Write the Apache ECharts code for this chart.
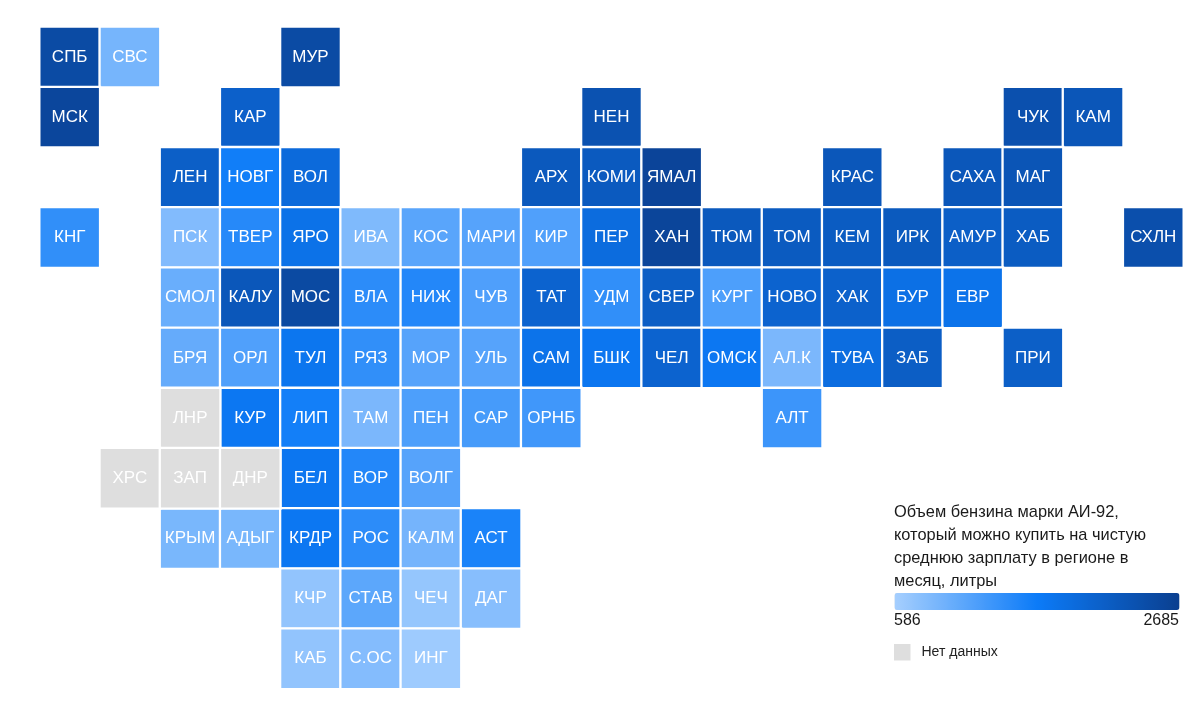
<!DOCTYPE html>
<html>
<head>
<meta charset="utf-8">
<style>html,body{margin:0;padding:0;background:#fff}#c{width:1200px;height:703px}</style>
<script src="https://cdn.jsdelivr.net/npm/echarts@6/dist/echarts.min.js"></script>
</head>
<body>
<div id="c"></div>
<script>
var colCategories = ['0','1','2','3','4','5','6','7','8','9','10','11','12','13','14','15','16','17','18'];
var rowCategories = ['0','1','2','3','4','5','6','7','8','9','10'];

var regionCodes = ['СПБ','СВС','МУР',
  'МСК','КАР','НЕН','ЧУК','КАМ',
  'ЛЕН','НОВГ','ВОЛ','АРХ','КОМИ','ЯМАЛ','КРАС','САХА','МАГ',
  'КНГ','ПСК','ТВЕР','ЯРО','ИВА','КОС','МАРИ','КИР','ПЕР','ХАН','ТЮМ','ТОМ','КЕМ','ИРК','АМУР','ХАБ','СХЛН',
  'СМОЛ','КАЛУ','МОС','ВЛА','НИЖ','ЧУВ','ТАТ','УДМ','СВЕР','КУРГ','НОВО','ХАК','БУР','ЕВР',
  'БРЯ','ОРЛ','ТУЛ','РЯЗ','МОР','УЛЬ','САМ','БШК','ЧЕЛ','ОМСК','АЛ.К','ТУВА','ЗАБ','ПРИ',
  'КУР','ЛИП','ТАМ','ПЕН','САР','ОРНБ','АЛТ',
  'БЕЛ','ВОР','ВОЛГ',
  'КРЫМ','АДЫГ','КРДР','РОС','КАЛМ','АСТ',
  'КЧР','СТАВ','ЧЕЧ','ДАГ',
  'КАБ','С.ОС','ИНГ'];
var regionCols = [0,1,4,
  0,3,9,16,17,
  2,3,4,8,9,10,13,15,16,
  0,2,3,4,5,6,7,8,9,10,11,12,13,14,15,16,18,
  2,3,4,5,6,7,8,9,10,11,12,13,14,15,
  2,3,4,5,6,7,8,9,10,11,12,13,14,16,
  3,4,5,6,7,8,12,
  4,5,6,
  2,3,4,5,6,7,
  4,5,6,7,
  4,5,6];
var regionRows = [0,0,0,
  1,1,1,1,1,
  2,2,2,2,2,2,2,2,2,
  3,3,3,3,3,3,3,3,3,3,3,3,3,3,3,3,3,
  4,4,4,4,4,4,4,4,4,4,4,4,4,4,
  5,5,5,5,5,5,5,5,5,5,5,5,5,5,
  6,6,6,6,6,6,6,
  7,7,7,
  8,8,8,8,8,8,
  9,9,9,9,
  10,10,10];
var regionValues = [2480,910,2480,
  2560,2100,2350,2380,2280,
  2130,1600,1930,2230,2210,2590,2260,2260,2300,
  1380,830,1460,1800,850,1110,1130,1170,1900,2580,2230,2200,2180,2220,2130,2180,2400,
  1000,2260,2500,1420,1480,1180,2050,1380,2150,1190,2050,2090,1830,1780,
  1030,1170,1730,1380,1130,1130,1780,1720,2050,1700,880,1880,2150,2130,
  1700,1590,880,1190,1240,1280,1310,
  1720,1480,1130,
  890,890,1700,1420,920,1540,
  720,1090,700,800,
  720,820,640];

var noDataCodes = ['ЛНР','ХРС','ЗАП','ДНР'];
var noDataCols = [2,1,2,3];
var noDataRows = [6,7,7,7];
var noDataName = 'Нет данных';

var scaleMin = 586;
var scaleMax = 2685;
var scaleColors = ['#A6CFFE','#0C7BF8','#0B3F8F'];
var legendTitle = 'Объем бензина марки АИ-92,\nкоторый можно купить на чистую\nсреднюю зарплату в регионе в\nмесяц, литры';

var regionData = regionCodes.map(function (c, i) {
  return { name: c, value: [regionCols[i], regionRows[i], regionValues[i]] };
});
var noData = noDataCodes.map(function (c, i) {
  return { name: c, value: [noDataCols[i], noDataRows[i], 1] };
});

var font = '"Liberation Sans", Arial, sans-serif';
var cellLabel = {
  show: true, color: '#fff', fontFamily: font, fontSize: 17,
  formatter: function (p) { return p.name; }
};
var chart = echarts.init(document.getElementById('c'), null, { renderer: 'canvas' });
chart.setOption({
  animation: false,
  backgroundColor: '#fff',
  grid: { left: 39.6, top: 26.9, width: 1143.8, height: 662 },
  xAxis: { type: 'category', data: colCategories, show: false },
  yAxis: { type: 'category', data: rowCategories, inverse: true, show: false },
  title: {
    text: legendTitle, left: 894, top: 501, padding: 0,
    textStyle: { fontFamily: font, fontSize: 16.4, fontWeight: 'normal', color: '#1a1a1a', lineHeight: 23 }
  },
  visualMap: {
    type: 'continuous', min: scaleMin, max: scaleMax, seriesIndex: 0, dimension: 2,
    orient: 'horizontal', left: 894.5, top: 593, itemWidth: 17, itemHeight: 285,
    padding: 0, calculable: false, realtime: false, hoverLink: false, text: null, showLabel: false,
    inRange: { color: scaleColors }
  },
  legend: {
    data: [noDataName], left: 894, top: 644, padding: 0, itemWidth: 16.5, itemHeight: 16.5, itemGap: 0,
    selectedMode: false, icon: 'rect', itemStyle: { borderWidth: 0 },
    textStyle: { fontFamily: font, fontSize: 14, color: '#222', padding: [0, 0, 0, 6] }
  },
  graphic: [
    { type: 'text', left: 894, top: 613, style: { text: String(scaleMin), fontFamily: font, fontSize: 16, fill: '#1a1a1a' } },
    { type: 'text', right: 21, top: 613, style: { text: String(scaleMax), fontFamily: font, fontSize: 16, fill: '#1a1a1a', textAlign: 'right' } }
  ],
  series: [
    { type: 'heatmap', data: regionData, label: cellLabel,
      itemStyle: { borderColor: '#fff', borderWidth: 2.3 } },
    { type: 'heatmap', name: noDataName, data: noData, label: cellLabel,
      itemStyle: { color: '#DEDEDE', borderColor: '#fff', borderWidth: 2.3 } }
  ]
});
</script>
</body>
</html>
